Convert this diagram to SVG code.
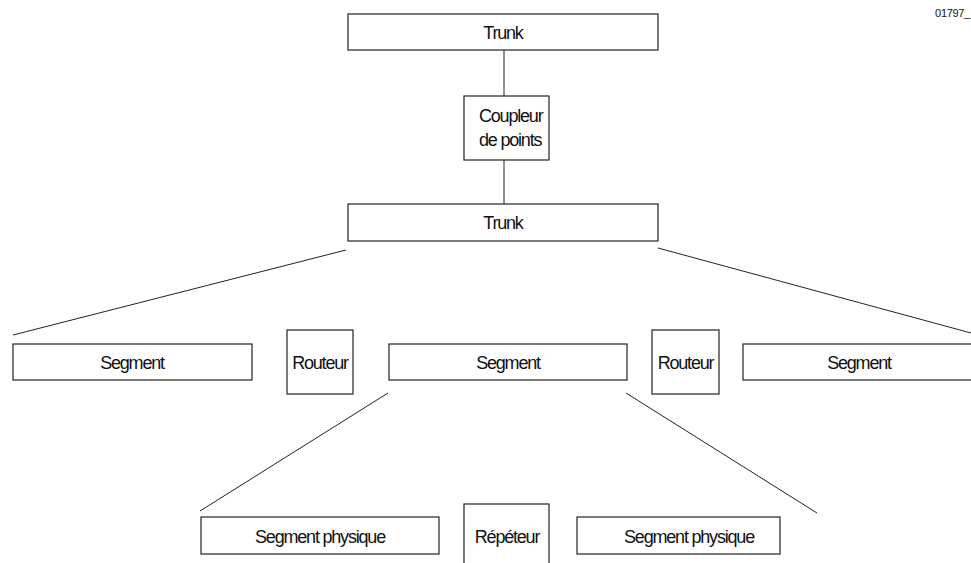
<svg xmlns="http://www.w3.org/2000/svg" width="971" height="563" viewBox="0 0 971 563">
<style>
rect{fill:#fff;stroke:#222;stroke-width:1.2}
line{stroke:#222;stroke-width:1}
text{font-family:"Liberation Sans",Arial,sans-serif;font-size:18px;letter-spacing:-1.2px;fill:#111;text-anchor:middle}
.s{font-size:11px;letter-spacing:-0.3px;text-anchor:end}
.l{text-anchor:start}
</style>
<rect width="971" height="563" style="fill:#fff;stroke:none"/>
<text class="s" x="970" y="17">01797_</text>
<g id="connectors">
<line x1="504" y1="50" x2="504" y2="96"/>
<line x1="504" y1="160" x2="504" y2="204"/>
<line x1="346" y1="250" x2="13" y2="335"/>
<line x1="658" y1="248" x2="971" y2="333"/>
<line x1="388" y1="393" x2="200" y2="511"/>
<line x1="626" y1="393" x2="817" y2="513"/>
</g>
<g id="trunk1"><rect x="348" y="14" width="310" height="36"/><text x="503" y="38.5">Trunk</text></g>
<g id="coupleur"><rect x="464" y="96" width="85" height="64"/><text class="l" x="479" y="121.5">Coupleur</text><text class="l" x="479" y="145.5">de points</text></g>
<g id="trunk2"><rect x="348" y="204" width="310" height="37"/><text x="503" y="228.5">Trunk</text></g>
<g id="segment1"><rect x="13" y="344" width="239" height="36"/><text x="132" y="368.5">Segment</text></g>
<g id="routeur1"><rect x="287" y="330" width="66" height="64"/><text x="320" y="368.5">Routeur</text></g>
<g id="segment2"><rect x="389" y="344" width="238" height="36"/><text x="508" y="368.5">Segment</text></g>
<g id="routeur2"><rect x="652" y="330" width="67" height="64"/><text x="685.5" y="368.5">Routeur</text></g>
<g id="segment3"><rect x="743" y="344" width="235" height="36"/><text x="859" y="368.5">Segment</text></g>
<g id="physique1"><rect x="201" y="517" width="238" height="37"/><text x="320" y="542.5">Segment physique</text></g>
<g id="repeteur"><rect x="464" y="504" width="85" height="65"/><text x="507" y="542.5">Répéteur</text></g>
<g id="physique2"><rect x="577" y="517" width="203" height="37"/><text x="689" y="542.5">Segment physique</text></g>
</svg>
